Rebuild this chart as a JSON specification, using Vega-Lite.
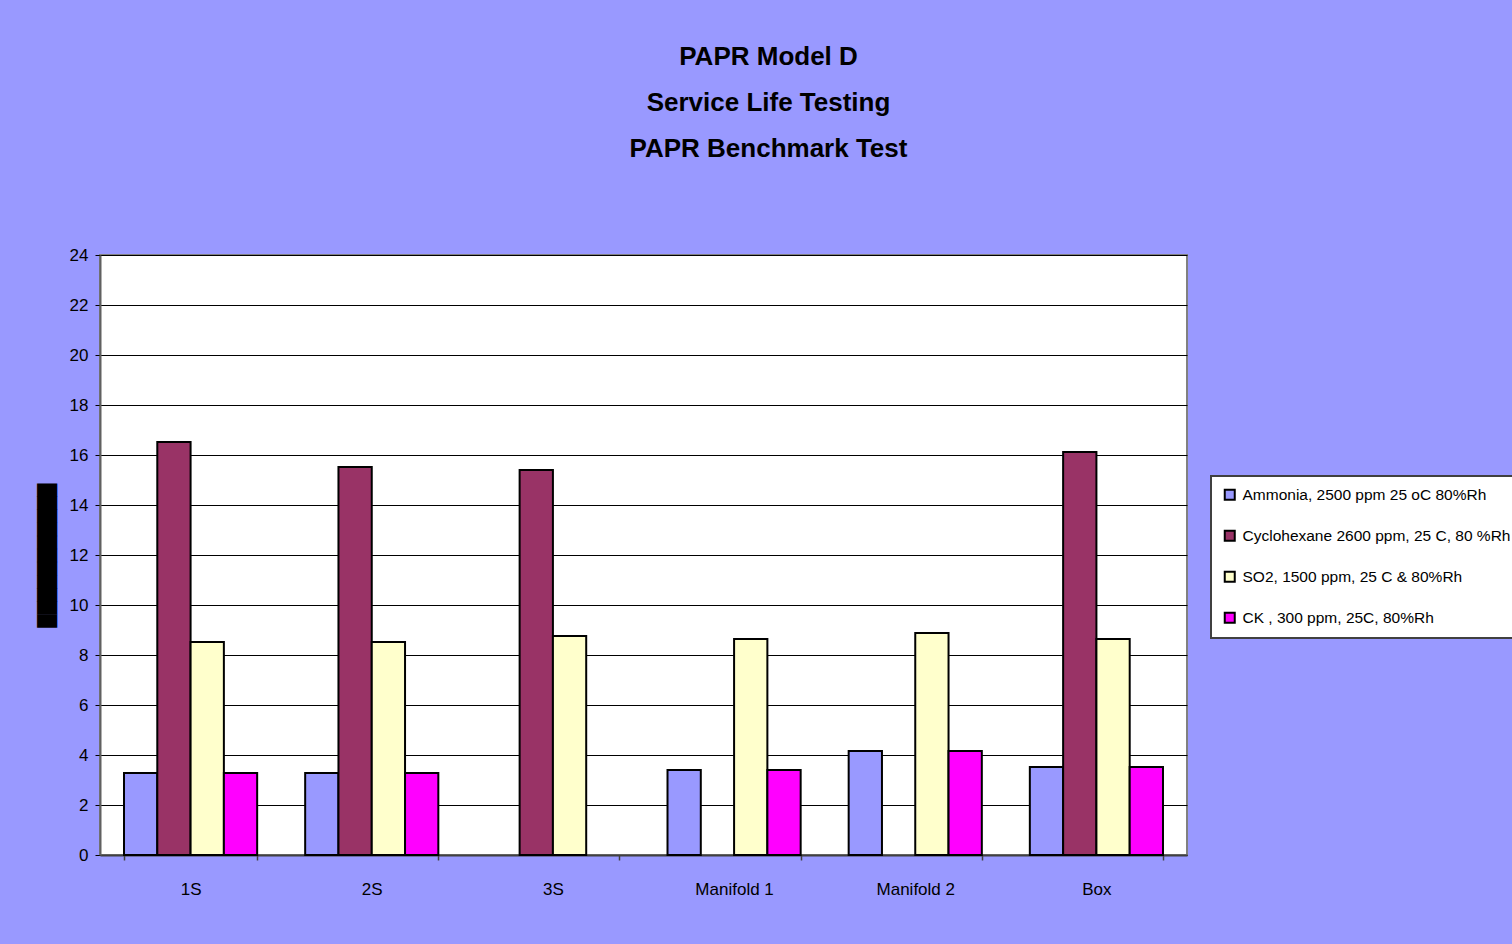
{
  "$schema": "https://vega.github.io/schema/vega-lite/v6.json",
  "autosize": "none",
  "width": 1087,
  "height": 600,
  "padding": {"left": 100, "top": 255, "right": 325, "bottom": 89},
  "background": "#9999FF",
  "title": {
    "text": ["PAPR Model D", "Service Life Testing", "PAPR Benchmark Test"],
    "font": "Liberation Sans",
    "fontSize": 26,
    "fontWeight": "bold",
    "lineHeight": 46,
    "color": "black",
    "anchor": "middle",
    "dx": 125,
    "offset": 84
  },
  "config": {
    "view": {"fill": "white", "stroke": "#808080", "strokeWidth": 2},
    "font": "Liberation Sans"
  },
  "data": {
    "values": [
      {"site": "1S", "series": "Ammonia, 2500 ppm 25 oC 80%Rh", "value": 3.28},
      {"site": "1S", "series": "Cyclohexane 2600 ppm, 25 C, 80 %Rh", "value": 16.52},
      {"site": "1S", "series": "SO2, 1500 ppm, 25 C & 80%Rh", "value": 8.52},
      {"site": "1S", "series": "CK , 300 ppm, 25C, 80%Rh", "value": 3.28},
      {"site": "2S", "series": "Ammonia, 2500 ppm 25 oC 80%Rh", "value": 3.28},
      {"site": "2S", "series": "Cyclohexane 2600 ppm, 25 C, 80 %Rh", "value": 15.52},
      {"site": "2S", "series": "SO2, 1500 ppm, 25 C & 80%Rh", "value": 8.52},
      {"site": "2S", "series": "CK , 300 ppm, 25C, 80%Rh", "value": 3.28},
      {"site": "3S", "series": "Cyclohexane 2600 ppm, 25 C, 80 %Rh", "value": 15.4},
      {"site": "3S", "series": "SO2, 1500 ppm, 25 C & 80%Rh", "value": 8.76},
      {"site": "Manifold 1", "series": "Ammonia, 2500 ppm 25 oC 80%Rh", "value": 3.4},
      {"site": "Manifold 1", "series": "SO2, 1500 ppm, 25 C & 80%Rh", "value": 8.64},
      {"site": "Manifold 1", "series": "CK , 300 ppm, 25C, 80%Rh", "value": 3.4},
      {"site": "Manifold 2", "series": "Ammonia, 2500 ppm 25 oC 80%Rh", "value": 4.16},
      {"site": "Manifold 2", "series": "SO2, 1500 ppm, 25 C & 80%Rh", "value": 8.88},
      {"site": "Manifold 2", "series": "CK , 300 ppm, 25C, 80%Rh", "value": 4.16},
      {"site": "Box", "series": "Ammonia, 2500 ppm 25 oC 80%Rh", "value": 3.52},
      {"site": "Box", "series": "Cyclohexane 2600 ppm, 25 C, 80 %Rh", "value": 16.12},
      {"site": "Box", "series": "SO2, 1500 ppm, 25 C & 80%Rh", "value": 8.64},
      {"site": "Box", "series": "CK , 300 ppm, 25C, 80%Rh", "value": 3.52}
    ]
  },
  "mark": {"type": "bar", "stroke": "black", "strokeWidth": 2, "opacity": 1},
  "encoding": {
    "x": {
      "field": "site",
      "type": "nominal",
      "sort": ["1S", "2S", "3S", "Manifold 1", "Manifold 2", "Box"],
      "scale": {"paddingInner": 0.265, "paddingOuter": 0.1325},
      "axis": {
        "title": null,
        "labelAngle": 0,
        "labelFontSize": 17,
        "labelColor": "black",
        "labelPadding": 21,
        "tickBand": "extent",
        "tickColor": "#404040",
        "tickWidth": 1.5,
        "tickSize": 5,
        "domainColor": "#404040",
        "domainWidth": 2
      }
    },
    "xOffset": {
      "field": "series",
      "sort": ["Ammonia, 2500 ppm 25 oC 80%Rh", "Cyclohexane 2600 ppm, 25 C, 80 %Rh", "SO2, 1500 ppm, 25 C & 80%Rh", "CK , 300 ppm, 25C, 80%Rh"],
      "scale": {"paddingInner": 0, "paddingOuter": 0}
    },
    "y": {
      "field": "value",
      "type": "quantitative",
      "scale": {"domain": [0, 24], "nice": false},
      "axis": {
        "values": [0, 2, 4, 6, 8, 10, 12, 14, 16, 18, 20, 22, 24],
        "title": "███████████",
        "titleFont": "DejaVu Sans",
        "titleFontSize": 17,
        "titleFontWeight": "normal",
        "titleColor": "black",
        "titlePadding": 13,
        "labelFontSize": 17,
        "labelColor": "black",
        "labelPadding": 7,
        "tickColor": "black",
        "tickSize": 5,
        "domainColor": "#606060",
        "domainWidth": 2,
        "grid": true,
        "gridColor": "black",
        "gridWidth": 1,
        "gridOpacity": 1
      }
    },
    "color": {
      "field": "series",
      "type": "nominal",
      "scale": {
        "domain": ["Ammonia, 2500 ppm 25 oC 80%Rh", "Cyclohexane 2600 ppm, 25 C, 80 %Rh", "SO2, 1500 ppm, 25 C & 80%Rh", "CK , 300 ppm, 25C, 80%Rh"],
        "range": ["#9999FF", "#993366", "#FFFFCC", "#FF00FF"]
      },
      "legend": {
        "title": null,
        "orient": "none",
        "legendX": 1111,
        "legendY": 221,
        "fillColor": "white",
        "strokeColor": "#404040",
        "padding": 11,
        "symbolType": "square",
        "symbolSize": 100,
        "symbolStrokeColor": "black",
        "symbolStrokeWidth": 2,
        "symbolOpacity": 1,
        "labelFontSize": 15.5,
        "labelColor": "black",
        "labelLimit": 400,
        "labelOffset": 5,
        "rowPadding": 22,
        "encode": {"legend": {"update": {"strokeWidth": {"value": 2}}}}
      }
    }
  }
}
